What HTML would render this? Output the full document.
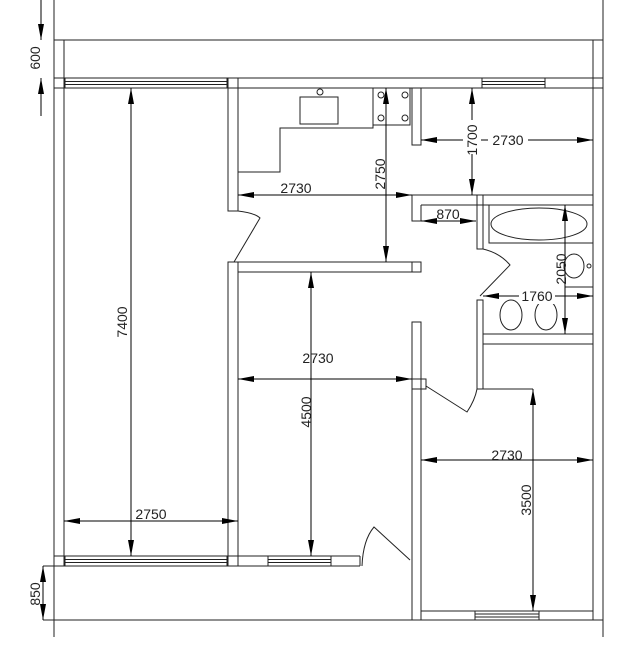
<!DOCTYPE html>
<html><head><meta charset="utf-8"><style>
html,body{margin:0;padding:0;background:#fff;}
svg{display:block;}
text{font-family:"Liberation Sans",sans-serif;font-size:14px;fill:#222;}
</style></head><body>
<svg width="631" height="670" viewBox="0 0 631 670" xmlns="http://www.w3.org/2000/svg">
<defs>
<marker id="a" viewBox="0 0 16 6" refX="16" refY="3" markerWidth="16" markerHeight="6" orient="auto-start-reverse" markerUnits="userSpaceOnUse"><path d="M0,0L16,3L0,6z" fill="#000"/></marker>
</defs>
<g fill="none" stroke="#222" stroke-width="1">
<line x1="54" y1="0" x2="54" y2="637"/>
<line x1="603" y1="0" x2="603" y2="637"/>
<line x1="54" y1="40" x2="603" y2="40"/>
<line x1="64" y1="40" x2="64" y2="566"/>
<line x1="593" y1="40" x2="593" y2="620"/>
<line x1="54" y1="78" x2="603" y2="78"/>
<line x1="54" y1="88" x2="603" y2="88"/>
<rect x="65" y="78" width="162" height="10"/>
<line x1="65" y1="81.5" x2="227" y2="81.5"/><line x1="65" y1="84.5" x2="227" y2="84.5"/>
<rect x="482" y="78" width="63" height="10"/>
<line x1="482" y1="81.5" x2="545" y2="81.5"/><line x1="482" y1="84.5" x2="545" y2="84.5"/>
<rect x="228" y="78" width="10" height="133"/>
<path d="M238,211 Q255,213 260,218 L234,262"/>
<rect x="228" y="262" width="10" height="304"/>
<path d="M238,172 H280 V128 H373 V88"/>
<rect x="300" y="97" width="38" height="27"/>
<circle cx="320" cy="92" r="3"/>
<rect x="373" y="88" width="37" height="37"/>
<circle cx="381" cy="95" r="3"/><circle cx="405" cy="95" r="3"/>
<circle cx="381" cy="118" r="3"/><circle cx="405" cy="118" r="3"/>
<rect x="412" y="88" width="9" height="57"/>
<line x1="412" y1="195" x2="593" y2="195"/>
<line x1="421" y1="205" x2="593" y2="205"/>
<path d="M412,195 V221 H421 V205"/>
<rect x="477" y="195" width="6" height="54"/>
<rect x="489" y="205" width="104" height="38"/>
<ellipse cx="539" cy="224" rx="48" ry="16"/>
<rect x="565" y="243" width="28" height="44"/>
<ellipse cx="574" cy="266" rx="10" ry="12"/>
<circle cx="589" cy="266" r="2"/>
<path d="M483,249 Q500,253 510,265 L480,296"/>
<rect x="477" y="300" width="6" height="89"/>
<line x1="483" y1="334" x2="593" y2="334"/>
<line x1="483" y1="344" x2="593" y2="344"/>
<ellipse cx="511" cy="315" rx="11" ry="15"/>
<ellipse cx="546" cy="315" rx="11" ry="15"/>
<line x1="483" y1="389" x2="533" y2="389"/>
<rect x="238" y="262" width="183" height="10"/>
<line x1="412" y1="262" x2="412" y2="272"/>
<rect x="412" y="322" width="9" height="298"/>
<rect x="412" y="379" width="14" height="10"/>
<path d="M426,386 L467,412 Q475,400 477,389"/>
<line x1="54" y1="556" x2="360" y2="556"/>
<line x1="43" y1="566" x2="360" y2="566"/>
<line x1="360" y1="556" x2="360" y2="566"/>
<rect x="65" y="556" width="162" height="10"/>
<line x1="65" y1="559.5" x2="227" y2="559.5"/><line x1="65" y1="562.5" x2="227" y2="562.5"/>
<rect x="268" y="556" width="63" height="10"/>
<line x1="268" y1="559.5" x2="331" y2="559.5"/><line x1="268" y1="562.5" x2="331" y2="562.5"/>
<path d="M362,566 Q363,540 374,527 L410,560"/>
<line x1="43" y1="620" x2="603" y2="620"/>
<line x1="421" y1="611" x2="593" y2="611"/>
<rect x="475" y="611" width="64" height="9"/>
<line x1="475" y1="614" x2="539" y2="614"/><line x1="475" y1="617" x2="539" y2="617"/>
</g>
<g stroke="#000" stroke-width="1" fill="none">
<line x1="41" y1="0" x2="41" y2="40" marker-end="url(#a)"/>
<line x1="41" y1="116" x2="41" y2="78" marker-end="url(#a)"/>
<line x1="43" y1="566" x2="43" y2="620" marker-start="url(#a)" marker-end="url(#a)"/>
<line x1="131" y1="88" x2="131" y2="556" marker-start="url(#a)" marker-end="url(#a)"/>
<line x1="64" y1="521" x2="238" y2="521" marker-start="url(#a)" marker-end="url(#a)"/>
<line x1="238" y1="195" x2="412" y2="195" marker-start="url(#a)" marker-end="url(#a)"/>
<line x1="386" y1="88" x2="386" y2="262" marker-start="url(#a)" marker-end="url(#a)"/>
<line x1="472" y1="88" x2="472" y2="195" marker-start="url(#a)" marker-end="url(#a)"/>
<line x1="421" y1="140" x2="593" y2="140" marker-start="url(#a)" marker-end="url(#a)"/>
<line x1="421" y1="221" x2="476" y2="221" marker-start="url(#a)" marker-end="url(#a)"/>
<line x1="565" y1="205" x2="565" y2="334" marker-start="url(#a)" marker-end="url(#a)"/>
<line x1="483" y1="296" x2="593" y2="296" marker-start="url(#a)" marker-end="url(#a)"/>
<line x1="311" y1="272" x2="311" y2="556" marker-start="url(#a)" marker-end="url(#a)"/>
<line x1="238" y1="379" x2="412" y2="379" marker-start="url(#a)" marker-end="url(#a)"/>
<line x1="421" y1="460" x2="593" y2="460" marker-start="url(#a)" marker-end="url(#a)"/>
<line x1="533" y1="389" x2="533" y2="611" marker-start="url(#a)" marker-end="url(#a)"/>
</g>
<g>
<rect x="463" y="120" width="18" height="34" fill="#fff"/>
<rect x="488" y="132" width="40" height="16" fill="#fff"/>
<rect x="519" y="288" width="36" height="16" fill="#fff"/>
<text transform="translate(40,58) rotate(-90)" text-anchor="middle">600</text>
<text transform="translate(40,594) rotate(-90)" text-anchor="middle">850</text>
<text transform="translate(127,322) rotate(-90)" text-anchor="middle">7400</text>
<text x="151" y="519" text-anchor="middle">2750</text>
<text x="296" y="193" text-anchor="middle">2730</text>
<text transform="translate(385,174) rotate(-90)" text-anchor="middle">2750</text>
<text transform="translate(477,140) rotate(-90)" text-anchor="middle">1700</text>
<text x="508" y="145" text-anchor="middle">2730</text>
<text x="448" y="219" text-anchor="middle">870</text>
<text transform="translate(566,269) rotate(-90)" text-anchor="middle">2050</text>
<text x="537" y="301" text-anchor="middle">1760</text>
<text transform="translate(311,412) rotate(-90)" text-anchor="middle">4500</text>
<text x="318" y="363" text-anchor="middle">2730</text>
<text x="507" y="460" text-anchor="middle">2730</text>
<text transform="translate(531,500) rotate(-90)" text-anchor="middle">3500</text>
</g>
</svg>
</body></html>
